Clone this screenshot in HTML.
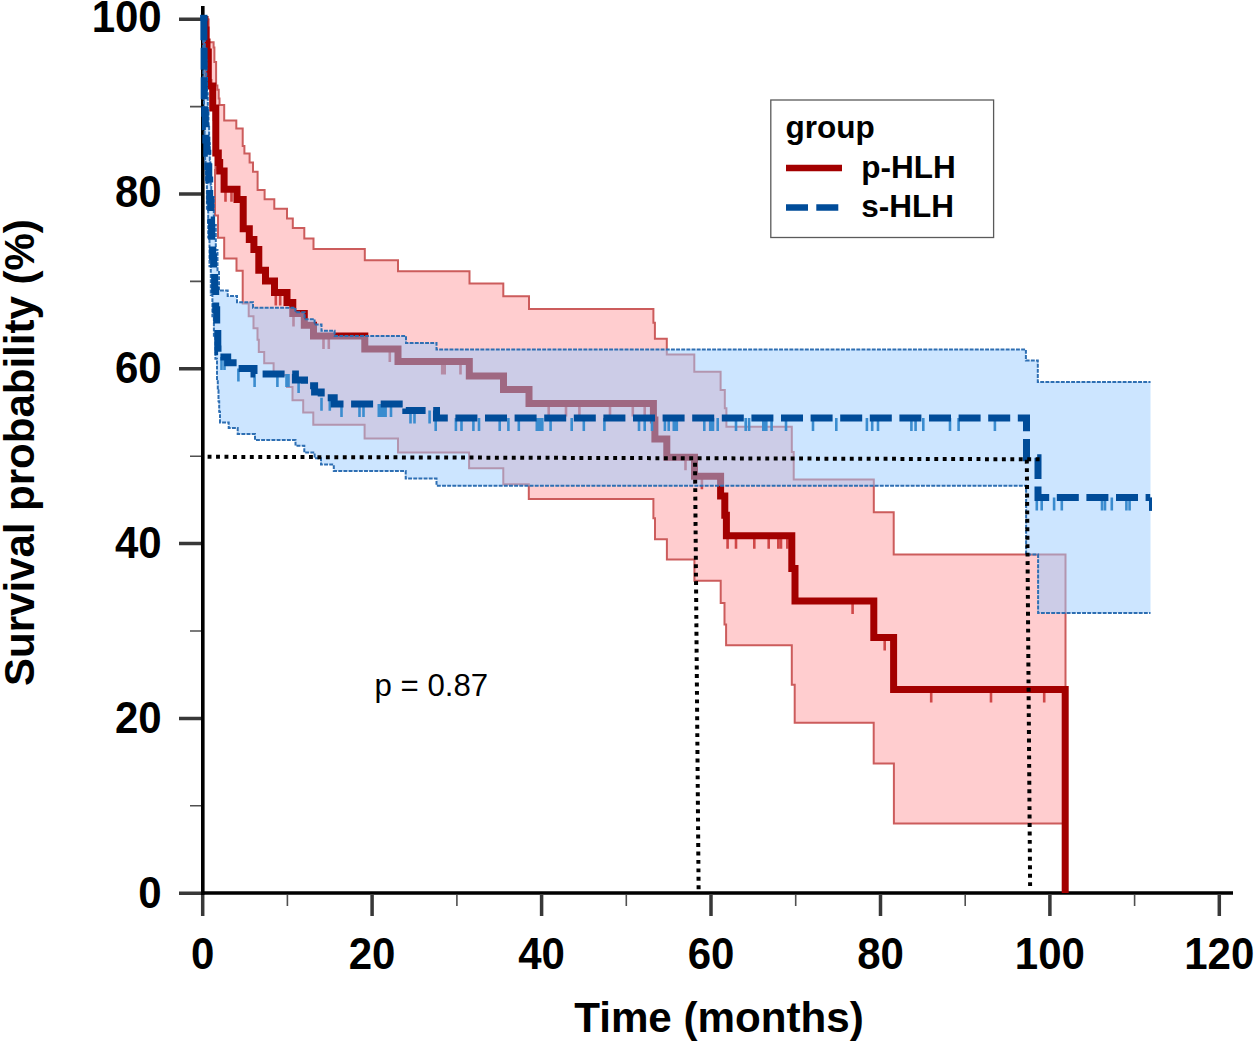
<!DOCTYPE html>
<html><head><meta charset="utf-8"><style>
html,body{margin:0;padding:0;background:#fff;}
body{width:1256px;height:1041px;overflow:hidden;font-family:"Liberation Sans",sans-serif;}
svg{display:block;}
</style></head><body>
<svg width="1256" height="1041" viewBox="0 0 1256 1041">
<rect width="1256" height="1041" fill="#fff"/>
<g fill="none">
<path d="M202.7 895v21M372.1 895v21M541.6 895v21M711.0 895v21M880.5 895v21M1049.9 895v21M1219.3 895v21M201 893.2h-22M201 718.4h-22M201 543.6h-22M201 368.8h-22M201 194.0h-22M201 19.2h-22" stroke="#383838" stroke-width="3.5"/>
<path d="M287.4 895v11M456.9 895v11M626.3 895v11M795.7 895v11M965.2 895v11M1134.6 895v11M201 805.8h-11M201 631.0h-11M201 456.2h-11M201 281.4h-11M201 106.6h-11" stroke="#505050" stroke-width="1.6"/>
<path d="M202.8 6V895M201 893H1233" stroke="#000" stroke-width="3.6"/>
</g>
<g>
<path d="M202.7 19.5H208.4V42.2H213.6V47.4H214.4V62.1H216.1V85.4H217.4V89.8H218.7V98.4H219.5V105.0H224.2V120.5H236.3V128.6H242.7V145.9H244.4V153.4H249.6V162.6H253.0V171.8H257.6V190.0H264.6V199.2H274.3V208.8H287.0V218.5H292.8V228.0H304.3V238.5H313.5V249.1H364.8V260.2H398.0V271.3H469.5V283.4H503.3V296.3H529.0V309.0H653.4V322.8H654.9V338.8H666.8V354.5H694.3V371.8H720.6V390.0H724.8V408.3H726.4V426.8H791.8V451.9H793.7V479.4H873.8V512.3H893.7V554.4H1065.5V823.6L893.9 823.6L893.9 763.5L873.7 763.5L873.7 722.7L794.7 722.7L794.7 684.7L791.8 684.7L791.8 645.3L726.1 645.3L726.1 624.6L724.5 624.6L724.5 603.0L720.7 603.0L720.7 580.8L694.4 580.8L694.4 559.5L666.9 559.5L666.9 539.3L655.0 539.3L655.0 518.2L653.4 518.2L653.4 499.0L528.8 499.0L528.8 484.3L503.3 484.3L503.3 468.3L469.1 468.3L469.1 452.6L398.0 452.6L398.0 438.6L364.6 438.6L364.6 424.8L313.3 424.8L313.3 412.4L303.2 412.4L303.2 400.3L292.5 400.3L292.5 387.0L287.0 387.0L287.0 375.0L273.6 375.0L273.6 363.3L264.2 363.3L264.2 351.9L258.8 351.9L258.8 339.8L257.5 339.8L257.5 328.3L253.5 328.3L253.5 316.2L248.7 316.2L248.7 303.5L242.7 303.5L242.7 270.8L236.5 270.8L236.5 258.5L224.2 258.5L224.2 237.7L218.0 237.7L218.0 215.4L215.0 215.4L215.0 170.0L215.4 170.0L215.4 140.0L214.4 140.0L214.4 120.0L213.6 120.0L213.6 100.0L211.5 100.0L211.5 80.0L210.0 80.0L210.0 60.0L208.4 60.0L208.4 19.5L202.7 19.5Z" fill="#ffcdcf" stroke="none"/>
<path d="M202.7 19.5H208.4V42.2H213.6V47.4H214.4V62.1H216.1V85.4H217.4V89.8H218.7V98.4H219.5V105.0H224.2V120.5H236.3V128.6H242.7V145.9H244.4V153.4H249.6V162.6H253.0V171.8H257.6V190.0H264.6V199.2H274.3V208.8H287.0V218.5H292.8V228.0H304.3V238.5H313.5V249.1H364.8V260.2H398.0V271.3H469.5V283.4H503.3V296.3H529.0V309.0H653.4V322.8H654.9V338.8H666.8V354.5H694.3V371.8H720.6V390.0H724.8V408.3H726.4V426.8H791.8V451.9H793.7V479.4H873.8V512.3H893.7V554.4H1065.5V823.6" fill="none" stroke="#cc5c5c" stroke-width="2"/>
<path d="M202.7 19.5H208.4V60.0H210.0V80.0H211.5V100.0H213.6V120.0H214.4V140.0H215.4V170.0H215.0V215.4H218.0V237.7H224.2V258.5H236.5V270.8H242.7V303.5H248.7V316.2H253.5V328.3H257.5V339.8H258.8V351.9H264.2V363.3H273.6V375.0H287.0V387.0H292.5V400.3H303.2V412.4H313.3V424.8H364.6V438.6H398.0V452.6H469.1V468.3H503.3V484.3H528.8V499.0H653.4V518.2H655.0V539.3H666.9V559.5H694.4V580.8H720.7V603.0H724.5V624.6H726.1V645.3H791.8V684.7H794.7V722.7H873.7V763.5H893.9V823.6H1065.5" fill="none" stroke="#cc5c5c" stroke-width="2"/>
<path d="M225.5 188.8v13M231.5 188.8v13M275.8 292.5v13M280.2 292.5v13M293.5 313.5v13M323.5 336.0v13M328.8 336.0v13M389.8 349.0v13M442.2 361.6v13M444.7 361.6v13M460.5 361.6v13M548.7 403.5v13M566.0 403.5v13M579.4 403.5v13M610.0 403.5v13M632.8 403.5v13M644.7 403.5v13M685.5 457.3v13M701.9 476.3v13M727.6 535.7v13M736.0 535.7v13M754.3 535.7v13M768.7 535.7v13M778.3 535.7v13M781.0 535.7v13M787.3 535.7v13M852.6 601.0v13M884.7 637.5v13M931.2 689.5v13M991.0 689.5v13M1044.2 689.5v13" fill="none" stroke="#d04848" stroke-width="2.6"/>
<path d="M202.7 19.5H205.0V30.0H206.0V42.0H207.0V52.0H208.3V86.0H212.7V108.0H215.8V153.0H218.3V162.5H219.7V171.1H224.1V189.3H237.0V199.5H243.2V228.8H249.3V239.5H253.9V249.5H258.8V270.3H265.5V281.1H274.5V292.5H287.0V302.5H292.8V313.5H304.3V325.3H313.5V336.0H364.8V349.0H398.0V361.6H469.3V376.0H503.5V389.5H529.0V403.5H653.4V420.0H654.9V439.0H666.8V457.3H694.5V476.3H720.6V496.0H724.8V515.3H726.4V535.7H791.8V568.5H795.0V601.0H873.8V637.5H893.6V689.5H1065.2V893.0" fill="none" stroke="#a30000" stroke-width="7" stroke-linejoin="miter"/>
<path d="M202.7 19.5H204.2V33.0H204.8V46.5H205.5V60.0H206.3V76.7H207.0V93.3H207.8V110.0H208.5V126.7H209.1V143.3H209.8V160.0H210.3V172.3H210.8V184.7H211.3V197.0H213.8V225.0H215.8V250.0H217.5V272.0H219.0V290.6H227.7V296.0H237.0V302.3H253.0V307.7H295.4V312.3H304.6V319.2H314.6V324.6H321.5V330.8H334.6V336.0H406.0V343.0H436.5V349.5H1025.9V360.4H1037.8V381.9H1150.5V613.0L1038.1 613.0L1038.1 554.5L1026.1 554.5L1026.1 485.7L436.5 485.7L436.5 478.4L405.7 478.4L405.7 471.0L333.8 471.0L333.8 464.6L321.0 464.6L321.0 458.2L314.6 458.2L314.6 452.6L304.3 452.6L304.3 445.8L295.5 445.8L295.5 440.0L255.0 440.0L255.0 434.0L237.7 434.0L237.7 428.0L228.7 428.0L228.7 422.4L220.0 422.4L220.0 411.8L219.2 411.8L219.2 401.2L218.5 401.2L218.5 390.6L217.8 390.6L217.8 380.0L217.0 380.0L217.0 358.8L215.4 358.8L215.4 337.5L213.9 337.5L213.9 316.2L212.4 316.2L212.4 295.0L210.8 295.0L210.8 266.2L209.5 266.2L209.5 237.5L208.2 237.5L208.2 208.8L206.9 208.8L206.9 180.0L205.6 180.0L205.6 160.0L205.1 160.0L205.1 140.0L204.6 140.0L204.6 120.0L204.0 120.0L204.0 100.0L203.5 100.0L203.5 79.9L203.4 79.9L203.4 59.8L203.2 59.8L203.2 39.6L203.1 39.6L203.1 19.5L202.7 19.5Z" fill="#9bccff" fill-opacity="0.51" stroke="none"/>
<path d="M202.7 19.5H204.2V33.0H204.8V46.5H205.5V60.0H206.3V76.7H207.0V93.3H207.8V110.0H208.5V126.7H209.1V143.3H209.8V160.0H210.3V172.3H210.8V184.7H211.3V197.0H213.8V225.0H215.8V250.0H217.5V272.0H219.0V290.6H227.7V296.0H237.0V302.3H253.0V307.7H295.4V312.3H304.6V319.2H314.6V324.6H321.5V330.8H334.6V336.0H406.0V343.0H436.5V349.5H1025.9V360.4H1037.8V381.9H1150.5" fill="none" stroke="#2e6fb3" stroke-width="2" stroke-dasharray="3.9 1.25"/>
<path d="M202.7 19.5H203.1V39.6H203.2V59.8H203.4V79.9H203.5V100.0H204.0V120.0H204.6V140.0H205.1V160.0H205.6V180.0H206.9V208.8H208.2V237.5H209.5V266.2H210.8V295.0H212.4V316.2H213.9V337.5H215.4V358.8H217.0V380.0H217.8V390.6H218.5V401.2H219.2V411.8H220.0V422.4H228.7V428.0H237.7V434.0H255.0V440.0H295.5V445.8H304.3V452.6H314.6V458.2H321.0V464.6H333.8V471.0H405.7V478.4H436.5V485.7H1026.1V554.5H1038.1V613.0H1150.5" fill="none" stroke="#2e6fb3" stroke-width="2" stroke-dasharray="3.9 1.25"/>
<path d="M221.5 357.0v13M224.5 357.0v13M238.4 368.4v13M254.6 374.0v13M277.4 374.0v13M286.5 374.0v13M288.5 374.0v13M298.6 380.0v13M321.5 397.7v13M329.8 397.7v13M341.5 403.9v13M359.5 403.9v13M363.5 403.9v13M378.8 403.9v13M380.2 403.9v13M381.6 403.9v13M383.0 403.9v13M384.5 403.9v13M385.6 403.9v13M391.0 403.9v13M410.5 410.6v13M414.5 410.6v13M429.6 410.6v13M435.7 418.0v13M455.9 418.0v13M461.5 418.0v13M473.4 418.0v13M479.0 418.0v13M499.7 418.0v13M508.4 418.0v13M518.8 418.0v13M536.8 418.0v13M538.2 418.0v13M539.6 418.0v13M541.0 418.0v13M542.3 418.0v13M550.6 418.0v13M571.7 418.0v13M583.8 418.0v13M604.4 418.0v13M639.0 418.0v13M644.7 418.0v13M652.0 418.0v13M664.9 418.0v13M668.7 418.0v13M673.8 418.0v13M675.3 418.0v13M676.8 418.0v13M704.3 418.0v13M710.2 418.0v13M711.6 418.0v13M713.0 418.0v13M717.7 418.0v13M736.0 418.0v13M745.7 418.0v13M749.1 418.0v13M763.3 418.0v13M764.8 418.0v13M766.3 418.0v13M771.6 418.0v13M786.0 418.0v13M813.0 418.0v13M836.3 418.0v13M866.9 418.0v13M872.2 418.0v13M878.0 418.0v13M911.4 418.0v13M915.6 418.0v13M923.3 418.0v13M950.0 418.0v13M958.6 418.0v13M994.9 418.0v13M1036.8 497.4v13M1041.7 497.4v13M1054.1 497.4v13M1061.8 497.4v13M1102.0 497.4v13M1105.0 497.4v13M1111.8 497.4v13M1126.4 497.4v13M1129.6 497.4v13" fill="none" stroke="#3a8ccf" stroke-width="2.6"/>
<path d="M1150.5 497.4v13.5" stroke="#004c99" stroke-width="3"/>
<path d="M202.7 19.5H203.9V46.3H204.1V73.2H204.2V100.0H204.7V113.3H205.3V126.7H205.8V140.0H206.8V153.3H207.8V166.7H208.8V180.0H209.7V200.0H210.7V220.0H211.6V240.0H212.6V256.7H213.6V273.3H214.6V290.0H215.7V309.7H216.7V329.3H217.8V349.0H218.0V351.7H218.3V354.3H218.5V357.0H227.7V362.8H237.5V368.4H254.0V374.0H295.4V380.0H304.5V385.7H314.6V392.0H321.2V397.7H334.2V403.9H405.8V410.6H436.5V418.0H1026.5V457.8H1038.0V497.4H1150.2" fill="none" stroke="#004c99" stroke-width="7" stroke-dasharray="22 7.6"/>
<path d="M203.8 14.8V21" stroke="#004c99" stroke-width="7.4"/>
</g>
<g stroke="#000" stroke-width="4" stroke-dasharray="3.9 4.55" fill="none">
<path d="M207.6 456.8L1040 459.3"/>
<path d="M698.6 889.2L695 458.5"/>
<path d="M1030.1 886.1L1026.8 458.5"/>
</g>
<g font-family="Liberation Sans, sans-serif" font-weight="bold" font-size="42" fill="#000">
<g transform="translate(202.7 969.0) scale(1 1.04)"><text text-anchor="middle">0</text></g><g transform="translate(372.1 969.0) scale(1 1.04)"><text text-anchor="middle">20</text></g><g transform="translate(541.6 969.0) scale(1 1.04)"><text text-anchor="middle">40</text></g><g transform="translate(711.0 969.0) scale(1 1.04)"><text text-anchor="middle">60</text></g><g transform="translate(880.5 969.0) scale(1 1.04)"><text text-anchor="middle">80</text></g><g transform="translate(1049.9 969.0) scale(1 1.04)"><text text-anchor="middle">100</text></g><g transform="translate(1219.3 969.0) scale(1 1.04)"><text text-anchor="middle">120</text></g>
<g transform="translate(161.7 908.0) scale(1 1.04)"><text text-anchor="end">0</text></g><g transform="translate(161.7 732.9) scale(1 1.04)"><text text-anchor="end">20</text></g><g transform="translate(161.7 557.7) scale(1 1.04)"><text text-anchor="end">40</text></g><g transform="translate(161.7 382.6) scale(1 1.04)"><text text-anchor="end">60</text></g><g transform="translate(161.7 207.4) scale(1 1.04)"><text text-anchor="end">80</text></g><g transform="translate(161.7 32.2) scale(1 1.04)"><text text-anchor="end">100</text></g>
<g transform="translate(719 1031.5) scale(1.004 1.03)"><text text-anchor="middle">Time (months)</text></g>
<g transform="translate(34.3 452.6) rotate(-90) scale(1 1.0)"><text text-anchor="middle">Survival probability (%)</text></g>
</g>
<g transform="translate(374.6 695.6) scale(1.0 1.0)"><text x="0" y="0" font-family="Liberation Sans, sans-serif" font-size="31.2" fill="#000">p = 0.87</text></g>
<rect x="770.8" y="100" width="222.8" height="137.5" fill="#fff" stroke="#5a5a5a" stroke-width="1.3"/>
<g font-family="Liberation Sans, sans-serif" font-weight="bold" font-size="31.5" fill="#000">
<text x="785.5" y="138">group</text>
<text x="861.3" y="178">p-HLH</text>
<text x="861.3" y="217.3">s-HLH</text>
</g>
<path d="M786 168H842" stroke="#a30000" stroke-width="6.5"/>
<path d="M786 207.5H838.3" stroke="#004c99" stroke-width="6.5" stroke-dasharray="22 8.3"/>
</svg>
</body></html>
